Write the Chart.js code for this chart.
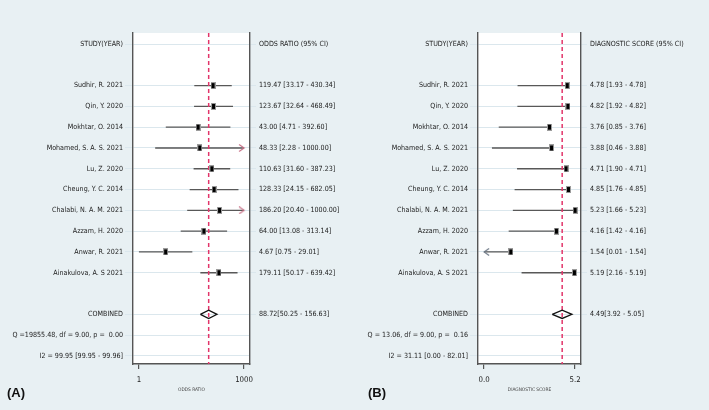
<!DOCTYPE html>
<html><head><meta charset="utf-8">
<script src="https://cdn.jsdelivr.net/npm/chart.js@4.4.1/dist/chart.umd.min.js"></script>
<style>
html,body{margin:0;padding:0;background:#e8f0f3;}
#wrap{position:relative;width:709px;height:410px;overflow:hidden;background:#e8f0f3;}
.panel{position:absolute;top:0;height:410px;}
#pa{left:0;width:355px;}
#pb{left:355px;width:354px;}
.tag{position:absolute;top:385px;font:bold 13px 'Liberation Sans',Arial,sans-serif;color:#111;line-height:16px;}
</style></head><body>
<div id="wrap">
<div class="panel" id="pa"><canvas id="ca"></canvas></div>
<div class="panel" id="pb"><canvas id="cb"></canvas></div>
<div class="tag" style="left:7px">(A)</div>
<div class="tag" style="left:368px">(B)</div>
</div>
<script>
// ---------- data ----------
const studies = ["Sudhir, R. 2021","Qin, Y. 2020","Mokhtar, O. 2014","Mohamed, S. A. S. 2021","Lu, Z. 2020",
  "Cheung, Y. C. 2014","Chalabi, N. A. M. 2021","Azzam, H. 2020","Anwar, R. 2021","Ainakulova, A. S 2021"];

const orEst = [119.47,123.67,43.00,48.33,110.63,128.33,186.20,64.00,4.67,179.11];
const orLo  = [33.17,32.64,4.71,2.28,31.60,24.15,20.40,13.08,0.75,50.17];
const orHi  = [430.34,468.49,392.60,1000.00,387.23,682.05,1000.00,313.14,29.01,639.42];
const orArrow = [null,null,null,"right",null,null,"right",null,null,null];
const orCombined = [88.72,50.25,156.63];
const orQ  = "Q =19855.48, df = 9.00, p =  0.00";
const orI2 = "I2 = 99.95 [99.95 - 99.96]";
const orTickValues = [0.75,1000];
const orTickLabels = ["1","1000"];

const dsEst = [4.78,4.82,3.76,3.88,4.71,4.85,5.23,4.16,1.54,5.19];
const dsLo  = [1.93,1.92,0.85,0.46,1.90,1.76,1.66,1.42,0.01,2.16];
const dsHi  = [4.78,4.82,3.76,3.88,4.71,4.85,5.23,4.16,1.54,5.19];
const dsArrow = [null,null,null,null,null,null,null,null,"left",null];
const dsCombined = [4.49,3.92,5.05];
const dsQ  = "Q = 13.06, df = 9.00, p =  0.16";
const dsI2 = "I2 = 31.11 [0.00 - 82.01]";
const dsTickValues = [0.01,5.23];
const dsTickLabels = ["0.0","5.2"];

// ---------- layout / style ----------
const FONT = "'DejaVu Sans Condensed','Liberation Sans',sans-serif";
const TXT = '#1c1c1c', GRID = '#dbe7ed', AXIS = '#555', RED = '#e2356a';
const ROWS = Array.from({length:16},(_,i)=>i);
const FIRST = 2, COMB = 13, QROW = 14, I2ROW = 15;
const Y_MIN = -0.53, Y_MAX = 15.39;

function markerImg(){
  const c=document.createElement('canvas'); c.width=5; c.height=7;
  const g=c.getContext('2d'); g.fillStyle='#9c9c9c'; g.fillRect(0,0,5,7);
  g.fillStyle='#000'; g.fillRect(1,1,3,5); return c;
}
function arrowImg(dir,color){
  const c=document.createElement('canvas'); c.width=12; c.height=8;
  const g=c.getContext('2d'); g.strokeStyle=color; g.lineWidth=1.1; g.beginPath();
  if(dir==='right'){ g.moveTo(1,0.5); g.lineTo(6,4); g.lineTo(1,7.5); }
  else { g.moveTo(11,0.5); g.lineTo(6,4); g.lineTo(11,7.5); }
  g.stroke(); return c;
}
const bgPlugin = {id:'bg', beforeDraw(ch){const a=ch.chartArea,c=ch.ctx;c.save();c.fillStyle='#fff';c.fillRect(a.left,a.top,a.right-a.left,a.bottom-a.top);c.restore();}};

function build(canvasId, o){
  const n = o.est.length;
  const left = ROWS.map(()=> '');
  const right = ROWS.map(()=> '');
  left[0] = 'STUDY(YEAR)'; right[0] = o.header;
  for(let i=0;i<n;i++){ left[FIRST+i]=studies[i]; right[FIRST+i]=`${o.est[i].toFixed(2)} [${o.lo[i].toFixed(2)} - ${o.hi[i].toFixed(2)}]`; }
  left[COMB]='COMBINED'; right[COMB]=`${o.comb[0].toFixed(2)}[${o.comb[1].toFixed(2)} - ${o.comb[2].toFixed(2)}]`;
  left[QROW]=o.q; left[I2ROW]=o.i2;

  const ci=[]; for(let i=0;i<n;i++){ ci.push({x:o.lo[i],y:FIRST+i},{x:o.hi[i],y:FIRST+i},{x:o.hi[i],y:null}); }
  const marks=o.est.map((v,i)=>({x:v,y:FIRST+i}));
  const arrR=[],arrL=[];
  o.arrow.forEach((a,i)=>{ if(a==='right') arrR.push({x:o.hi[i],y:FIRST+i}); if(a==='left') arrL.push({x:o.lo[i],y:FIRST+i}); });
  const h=0.2;
  const dia=[{x:o.comb[1],y:COMB},{x:o.comb[0],y:COMB-h},{x:o.comb[2],y:COMB},{x:o.comb[0],y:COMB+h},{x:o.comb[1],y:COMB}];
  const red=[{x:o.comb[0],y:Y_MIN},{x:o.comb[0],y:Y_MAX}];

  const yBase = {type:'linear', reverse:true, min:Y_MIN, max:Y_MAX,
    afterBuildTicks:s=>{s.ticks=ROWS.map(v=>({value:v}));}};
  new Chart(document.getElementById(canvasId),{
    type:'scatter',
    data:{datasets:[
      {data:marks, pointStyle:markerImg(), pointRadius:3, showLine:false},
      {data:arrR, pointStyle:arrowImg('right',o.arrowColor), pointRadius:3, showLine:false},
      {data:arrL, pointStyle:arrowImg('left',o.arrowColor), pointRadius:3, showLine:false},
      {data:dia, showLine:true, borderColor:'#111', borderWidth:1.3, pointRadius:0, fill:false},
      {data:red, showLine:true, borderColor:RED, borderWidth:1.5, borderDash:[4,3], pointRadius:0},
      {data:ci, showLine:true, spanGaps:false, borderColor:'#585858', borderWidth:1.3, pointRadius:0}
    ]},
    options:{
      responsive:true, maintainAspectRatio:false, animation:false, events:[],
      layout:{padding:{top:33,left:0,right:0,bottom:0}},
      plugins:{legend:{display:false},tooltip:{enabled:false}},
      scales:{
        x:{type:o.xType, position:'bottom', min:o.xMin, max:o.xMax,
          afterBuildTicks:s=>{s.ticks=o.tickValues.map(v=>({value:v}));},
          afterFit:s=>{s.height=46;},
          ticks:{autoSkip:false,maxRotation:0,padding:6,color:TXT,font:{family:FONT,size:7.8},callback:(v,i)=>o.tickLabels[i]},
          grid:{drawOnChartArea:false,tickLength:5,color:AXIS,lineWidth:1.2},
          border:{display:true,color:AXIS,width:1.4},
          title:{display:true,text:o.xTitle,color:'#444',font:{family:FONT,size:4.8},padding:{top:0,bottom:17.8}}
        },
        y:Object.assign({},yBase,{position:'left',
          afterFit:s=>{s.width=o.leftW;},
          ticks:{autoSkip:false,padding:2,color:TXT,font:{family:FONT,size:7.1},callback:(v,i)=>left[i]},
          grid:{color:c=>left[c.index]?GRID:'rgba(0,0,0,0)',tickLength:8,lineWidth:1},
          border:{display:true,color:AXIS,width:1.4}}),
        y2:Object.assign({},yBase,{position:'right',
          afterFit:s=>{s.width=o.rightW;},
          ticks:{autoSkip:false,padding:3,color:TXT,font:{family:FONT,size:7.1},callback:(v,i)=>right[i]},
          grid:{drawOnChartArea:false,color:c=>right[c.index]?GRID:'rgba(0,0,0,0)',tickLength:6,lineWidth:1},
          border:{display:true,color:AXIS,width:1.4}})
      }
    },
    plugins:[bgPlugin]
  });
}

build('ca',{est:orEst,lo:orLo,hi:orHi,arrow:orArrow,comb:orCombined,q:orQ,i2:orI2,
  header:'ODDS RATIO (95% CI)',xType:'logarithmic',xMin:0.5,xMax:1500,tickValues:orTickValues,tickLabels:orTickLabels,
  xTitle:'ODDS RATIO',leftW:133,rightW:105,arrowColor:'#c76f86'});
build('cb',{est:dsEst,lo:dsLo,hi:dsHi,arrow:dsArrow,comb:dsCombined,q:dsQ,i2:dsI2,
  header:'DIAGNOSTIC SCORE (95% CI)',xType:'linear',xMin:-0.34,xMax:5.57,tickValues:dsTickValues,tickLabels:dsTickLabels,
  xTitle:'DIAGNOSTIC SCORE',leftW:123,rightW:128,arrowColor:'#6b7785'});
</script>
</body></html>
